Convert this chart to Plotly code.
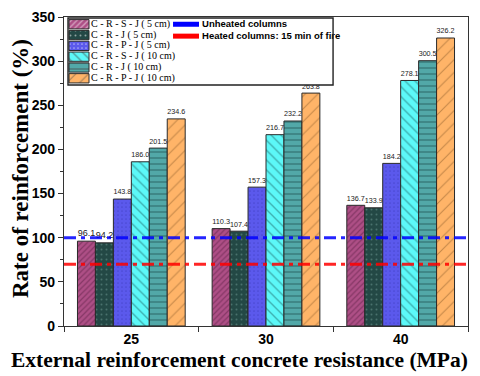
import plotly.graph_objects as go

# data
strengths = ['25', '30', '40']
series_names = ['C - R - S - J ( 5 cm)', 'C - R - J ( 5 cm)', 'C - R - P - J ( 5 cm)',
                'C - R - S - J ( 10 cm)', 'C - R - J ( 10 cm)', 'C - R - P - J ( 10 cm)']
crsj_5 = [96.1, 110.3, 136.7]
crj_5 = [94.2, 107.4, 133.9]
crpj_5 = [143.8, 157.3, 184.2]
crsj_10 = [186.0, 216.7, 278.1]
crj_10 = [201.5, 232.2, 300.5]
crpj_10 = [234.6, 263.8, 326.2]
unheated_level = 100
heated_level = 70
line_names = ['Unheated columns', 'Heated columns: 15 min of fire']

all_series = [crsj_5, crj_5, crpj_5, crsj_10, crj_10, crpj_10]

# styles (bg colour, pattern colour, pattern shape, pattern size, solidity)
styles = [
    ('#AE4F86', '#5c1f44', '/', 4, 0.3),
    ('#234845', '#6f9c96', '.', 5, 0.12),
    ('#5B59EC', '#3a38b8', '.', 4, 0.15),
    ('#5CF8F8', '#1f6868', '\\', 7, 0.2),
    ('#52A8A8', '#1f4f4f', '-', 6, 0.25),
    ('#FFB468', '#8a5a2a', '/', 9, 0.12),
]
line_cols = ['#0000FF', '#FF0000']

fig = go.Figure()

for name, vals, st in zip(series_names, all_series, styles):
    fig.add_trace(go.Bar(
        x=strengths, y=vals, name=name,
        marker=dict(color=st[0], line=dict(color='#2a2a2a', width=1),
                    pattern=dict(shape=st[2], fgcolor=st[1], bgcolor=st[0], size=st[3], solidity=st[4])),
        texttemplate='%{y:.1f}', textposition='outside', cliponaxis=False,
        textfont=dict(family='Arial', size=9, color='#222'),
        showlegend=False))

# reference lines
for lvl, col in zip([unheated_level, heated_level], line_cols):
    fig.add_shape(type='line', xref='paper', x0=0, x1=1, yref='y', y0=lvl, y1=lvl,
                  line=dict(color=col, width=3, dash='12px,5px,4px,5px'), opacity=0.85)

# hand made legend on an inset axis (plotly legend rows are too tall here)
rows = list(range(len(series_names)))
fig.add_trace(go.Bar(
    x=[20] * len(rows), base=[1] * len(rows), y=rows, orientation='h', width=0.86,
    marker=dict(color=[s[0] for s in styles], line=dict(color='#2a2a2a', width=1),
                pattern=dict(shape=[s[2] for s in styles], fgcolor=[s[1] for s in styles],
                             bgcolor=[s[0] for s in styles], size=[s[3] for s in styles],
                             solidity=[s[4] for s in styles])),
    xaxis='x2', yaxis='y2', showlegend=False, hoverinfo='skip'))
fig.add_trace(go.Scatter(
    x=[23] * len(rows), y=rows, text=series_names, mode='text', textposition='middle right',
    textfont=dict(family='Liberation Serif', size=10, color='black'),
    xaxis='x2', yaxis='y2', showlegend=False, hoverinfo='skip', cliponaxis=False))
for i, (nm, col) in enumerate(zip(line_names, line_cols)):
    yy = i * 1.1
    fig.add_trace(go.Scatter(
        x=[105, 131], y=[yy, yy], mode='lines', line=dict(color=col, width=5),
        xaxis='x2', yaxis='y2', showlegend=False, hoverinfo='skip'))
    fig.add_trace(go.Scatter(
        x=[134], y=[yy], text=[nm], mode='text', textposition='middle right',
        textfont=dict(family='Arial', size=9.5, color='black', weight='bold'),
        xaxis='x2', yaxis='y2', showlegend=False, hoverinfo='skip', cliponaxis=False))

# legend frame
fig.add_shape(type='rect', xref='paper', yref='paper', x0=0.0099, x1=0.666, y0=0.78, y1=0.9968,
              line=dict(color='#222', width=1.4))

# axis titles as annotations so they sit where the original has them
fig.add_annotation(text='External reinforcement concrete resistance (MPa)', xref='paper', yref='paper',
                   x=0.4356, y=-0.11, showarrow=False, xanchor='center', yanchor='middle',
                   font=dict(family='Liberation Serif', size=21.5, color='black', weight='bold'))
fig.add_annotation(text='Rate of reinforcement (%)', xref='paper', yref='paper',
                   x=-0.109, y=0.511, textangle=-90, showarrow=False, xanchor='center', yanchor='middle',
                   font=dict(family='Liberation Serif', size=23, color='black', weight='bold'))

# page body has an 8px margin, so the figure is 8px smaller each way
fig.update_layout(
    width=472, height=368,
    margin=dict(l=56, r=12, t=9, b=50, autoexpand=False),
    paper_bgcolor='white', plot_bgcolor='white',
    barmode='group', bargap=0.2, bargroupgap=0,
    showlegend=False,
    xaxis=dict(range=[-0.5, 2.5], showline=True, linecolor='#333', linewidth=1.2, mirror=True,
               ticks='outside', tickson='boundaries', ticklen=5, tickcolor='#333', automargin=False,
               tickfont=dict(family='Arial', size=14, color='black', weight='bold')),
    yaxis=dict(range=[0, 350], dtick=50, showline=True, linecolor='#333', linewidth=1.2, mirror=True,
               ticks='outside', ticklen=5, tickcolor='#333', showgrid=False, zeroline=False,
               automargin=False, ticklabeloverflow='allow',
               minor=dict(dtick=25, ticks='outside', ticklen=3, tickcolor='#333'),
               tickfont=dict(family='Arial', size=14, color='black', weight='bold')),
    xaxis2=dict(domain=[0.0099, 0.666], range=[0, 265], anchor='y2', visible=False),
    yaxis2=dict(domain=[0.78, 0.9968], range=[5.62, -0.58], anchor='x2', visible=False),
)

fig.write_html('out.html')
